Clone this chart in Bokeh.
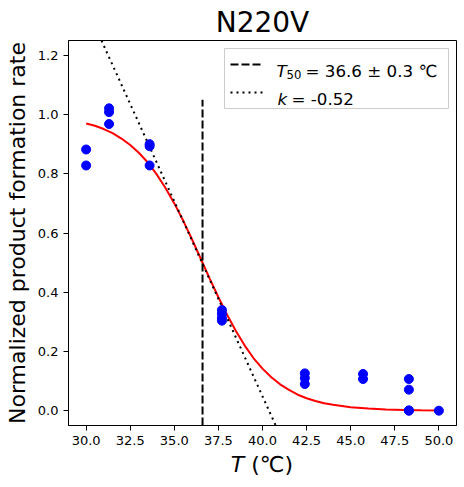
from bokeh.plotting import figure
from bokeh.models import Range1d, FixedTicker, Label, PrintfTickFormatter, Div
from bokeh.layouts import column
from bokeh.embed import file_html
from bokeh.resources import INLINE

# ---- texts ----
title_text = "N220V"
x_label_var = "T"
x_label_unit = "(℃)"
y_label = "Normalized product formation rate"

# ---- measured data ----
temps = [30.0, 30.0, 31.3, 31.3, 31.3, 33.6, 33.6, 33.6,
         37.7, 37.7, 37.7, 37.7, 42.4, 42.4, 42.4, 45.7, 45.7,
         48.3, 48.3, 48.3, 48.3, 50.0]
rates = [0.882, 0.828, 1.021, 1.008, 0.968, 0.900, 0.893, 0.828,
         0.340, 0.327, 0.313, 0.304, 0.126, 0.110, 0.090, 0.124, 0.107,
         0.107, 0.071, 0.001, 0.0, 0.0]

# ---- fitted curve ----
fit_T = [30.0, 30.5, 31.0, 31.5, 32.0, 32.5, 33.0, 33.5, 34.0, 34.5,
         35.0, 35.5, 36.0, 36.5, 37.0, 37.5, 38.0, 38.5, 39.0, 39.5,
         40.0, 40.5, 41.0, 41.5, 42.0, 42.5, 43.0, 43.5, 44.0, 45.0,
         46.0, 47.0, 48.0, 49.0, 50.0]
fit_rate = [0.970, 0.962, 0.951, 0.937, 0.919, 0.897, 0.870, 0.838, 0.798, 0.752,
            0.700, 0.642, 0.579, 0.513, 0.447, 0.383, 0.323, 0.268, 0.219, 0.177,
            0.142, 0.113, 0.089, 0.070, 0.054, 0.042, 0.033, 0.025, 0.020, 0.012,
            0.007, 0.004, 0.0024, 0.0014, 0.0008]

t50 = 36.6
t50_err = 0.3
k_value = -0.52
t50_line_T = [36.6, 36.6]
t50_line_rate = [-0.05, 1.05]
tangent_T = [30.87, 40.75]
tangent_rate = [1.25, -0.05]

x_ticks = [30.0, 32.5, 35.0, 37.5, 40.0, 42.5, 45.0, 47.5, 50.0]
y_ticks = [0.0, 0.2, 0.4, 0.6, 0.8, 1.0, 1.2]

FONT = "DejaVu Sans"

# frame in page pixels
FL, FR, FT, FB = 68, 456, 40, 425
X0, X1, Y0, Y1 = 29.0, 51.0, -0.05, 1.25


def dx(px):
    return X0 + (px - FL) * (X1 - X0) / (FR - FL)


def dy(py):
    return Y1 - (py - FT) * (Y1 - Y0) / (FB - FT)


def sx(px):
    return px - FL


def sy(py):
    return FB - py


PLOT_H = 452
p = figure(width=464, height=PLOT_H,
           x_range=Range1d(X0, X1), y_range=Range1d(Y0, Y1),
           output_backend="svg", toolbar_location=None,
           min_border_left=FL, min_border_right=464 - FR,
           min_border_top=FT, min_border_bottom=PLOT_H - FB)

p.background_fill_color = "white"
p.border_fill_color = "white"
p.outline_line_color = "black"
p.outline_line_width = 1
p.outline_line_alpha = 1
p.grid.visible = False

p.title.text = title_text
p.title.align = "center"
p.title.text_font = FONT
p.title.text_font_size = "28px"
p.title.text_font_style = "normal"
p.title.text_color = "black"
p.title.standoff = 4

for ax in (p.xaxis[0], p.yaxis[0]):
    ax.axis_line_color = "black"
    ax.major_tick_line_color = "black"
    ax.major_tick_out = 5
    ax.major_tick_in = 0
    ax.minor_tick_out = 0
    ax.minor_tick_in = 0
    ax.major_label_text_font = FONT
    ax.major_label_text_font_size = "13px"
    ax.major_label_text_color = "black"
    ax.major_label_standoff = 5
    ax.formatter = PrintfTickFormatter(format="%.1f")

p.xaxis.ticker = FixedTicker(ticks=x_ticks)
p.yaxis.ticker = FixedTicker(ticks=y_ticks)
p.xaxis.axis_label = None
p.yaxis.axis_label = y_label
p.yaxis.axis_label_text_font = FONT
p.yaxis.axis_label_text_font_size = "22px"
p.yaxis.axis_label_text_font_style = "normal"
p.yaxis.axis_label_text_color = "black"
p.yaxis.axis_label_standoff = 5

# data
p.line(fit_T, fit_rate, line_color="red", line_width=2)
p.line(t50_line_T, t50_line_rate, line_color="black", line_width=2, line_dash="8 3")
p.line(tangent_T, tangent_rate, line_color="black", line_width=2, line_dash="2 4")
p.scatter(temps, rates, size=9, fill_color="blue", line_color="blue", line_width=1)

# legend box and samples
p.quad(left=[dx(224)], right=[dx(448)], top=[dy(48)], bottom=[dy(108)],
       fill_color="white", fill_alpha=0.9, line_color="#cccccc", line_width=1)
p.line([dx(230), dx(263)], [dy(64), dy(64)], line_color="black", line_width=2, line_dash="8 3")
p.line([dx(230), dx(263)], [dy(92), dy(92)], line_color="black", line_width=2, line_dash="2 4")


def add_label(text, px, py, size, style="normal", align="left"):
    p.add_layout(Label(x=sx(px), y=sy(py), x_units="screen", y_units="screen",
                       text=text, text_font=FONT, text_font_size=size,
                       text_font_style=style, text_color="black",
                       text_align=align, text_baseline="alphabetic"))


# legend texts
add_label("T", 276, 70, "16.7px", "italic")
add_label("50", 286, 74, "11.7px")
add_label(f"= {t50} ± {t50_err} ℃", 305, 70, "16.7px")
add_label("k", 277, 98, "16.7px", "italic")
add_label(f"= {k_value}", 291, 98, "16.7px")

# x-axis label (italic variable + unit) below the plot
x_label_html = (
    f'<div style="font-family:\'DejaVu Sans\';font-size:22px;line-height:26px;'
    f'color:#000;white-space:nowrap;margin-left:{FL}px;width:{FR - FL}px;'
    f'text-align:center"><i>{x_label_var}</i> {x_label_unit}</div>'
)
x_label_div = Div(text=x_label_html, width=464, height=487 - PLOT_H, margin=(0, 0, 0, 0))

layout = column(p, x_label_div, spacing=0)

open("out.html", "w").write(file_html(layout, INLINE))
